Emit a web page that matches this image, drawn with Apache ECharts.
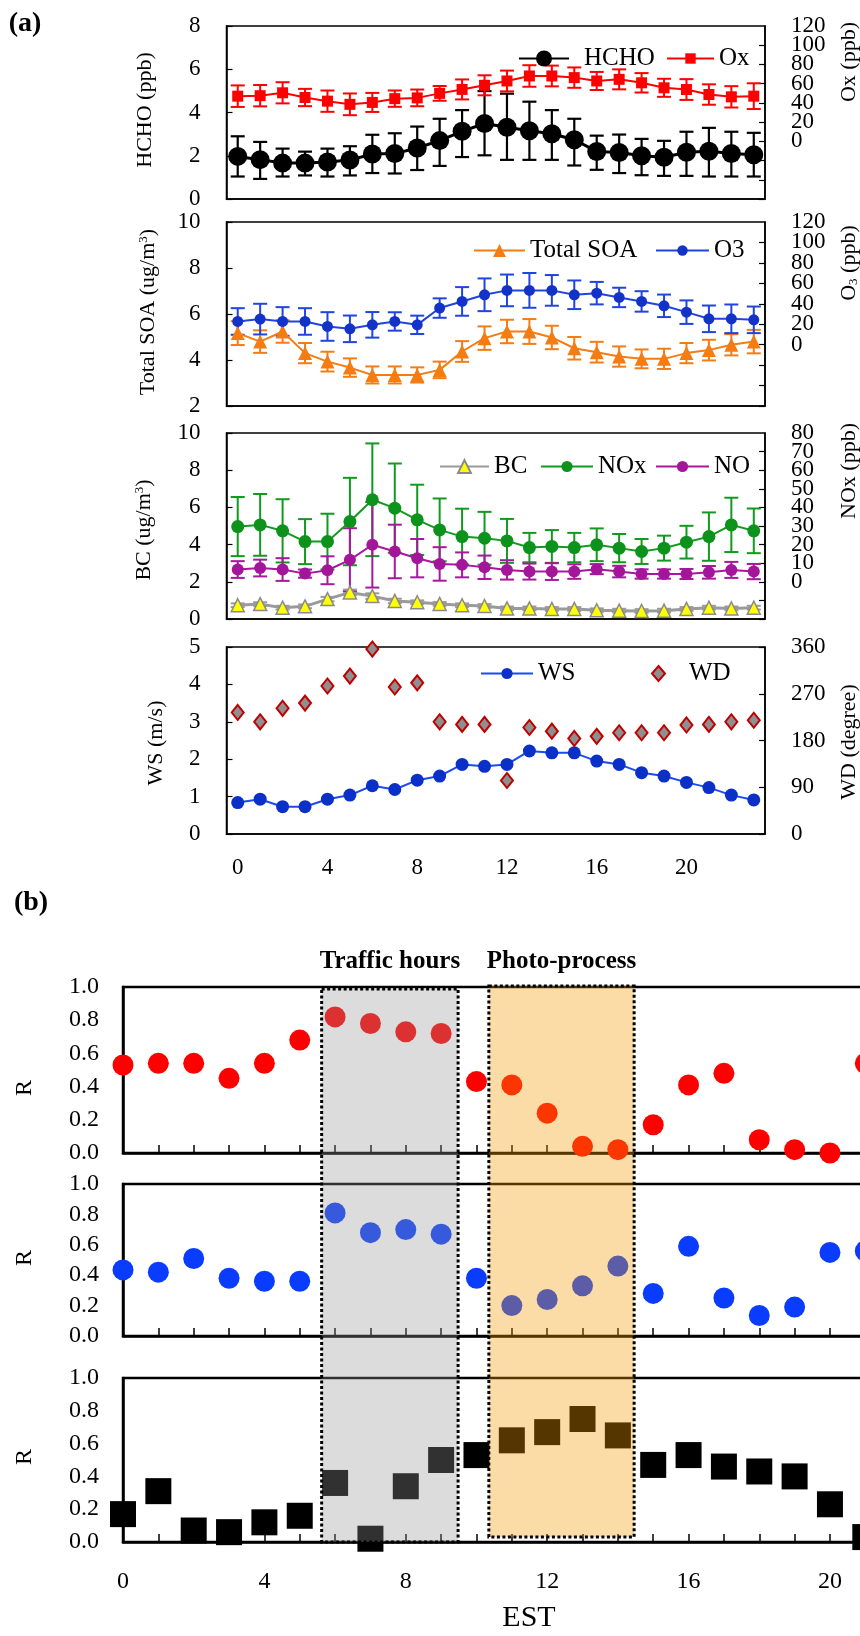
<!DOCTYPE html>
<html>
<head>
<meta charset="utf-8">
<script src="https://cdn.jsdelivr.net/npm/echarts@6/dist/echarts.min.js"></script>
<style>
  html, body { margin: 0; padding: 0; background: #fff; }
  #main { width: 860px; height: 1636px; }
</style>
</head>
<body>
<div id="main"></div>
<script>
// ---------- data: panel (a), hourly means 0-23 EST ----------
const hours = ["0","1","2","3","4","5","6","7","8","9","10","11","12","13","14","15","16","17","18","19","20","21","22","23"];

const hcho = [1.97,1.82,1.66,1.66,1.71,1.80,2.08,2.10,2.36,2.70,3.13,3.49,3.32,3.16,3.02,2.74,2.20,2.15,2.00,1.93,2.16,2.21,2.10,2.05];
const hchoLow = [1.04,0.93,1.04,1.09,1.04,1.09,1.20,1.18,1.34,1.53,1.94,2.02,1.81,1.81,1.81,1.55,1.35,1.20,1.10,1.07,1.07,1.04,1.04,1.04];
const hchoHigh = [2.90,2.64,2.33,2.19,2.33,2.44,2.97,3.04,3.35,3.71,4.11,4.99,4.87,4.50,4.11,3.71,2.93,2.98,2.78,2.69,3.11,3.29,3.11,3.06];
const ox = [47,47.5,50.5,45.6,41.8,38.5,40.5,44.4,45.2,49.9,54,58.3,62.8,68,68,66.3,62.8,64.5,60.9,55.7,53.9,48.7,46.3,47];
const oxErr = [11.2,11.1,11,9,11.1,11.3,9.9,8.5,8.7,7.7,10.4,10.4,10.8,11.2,10.8,10.6,9.4,10.4,10.1,9.4,10.8,10.6,11.1,13.4];

const soa = [5.17,4.80,5.24,4.30,3.93,3.67,3.35,3.35,3.35,3.57,4.37,4.95,5.24,5.24,4.98,4.51,4.34,4.15,4.05,4.05,4.30,4.43,4.66,4.80];
const soaErr = [0.52,0.49,0.49,0.44,0.43,0.40,0.37,0.37,0.33,0.36,0.45,0.51,0.51,0.54,0.51,0.49,0.45,0.44,0.41,0.44,0.44,0.45,0.46,0.51];
const o3 = [22.7,25,22.7,22.7,17.8,15.5,19.4,22.7,19.4,35.8,42.3,48.8,53.1,53.1,53.1,48.8,50.4,46.2,42.3,38,31.8,25.3,25.3,24.3];
const o3Err = [13,15,14,13,14,13,12.5,9,9,9.5,14,16,15.5,17,15,14,11,9.5,10,11,11.5,13,14,13];

const bc = [0.74,0.80,0.61,0.68,1.07,1.43,1.23,0.97,0.90,0.81,0.74,0.70,0.57,0.57,0.54,0.54,0.47,0.45,0.43,0.45,0.54,0.61,0.57,0.61];
const bcErr = [0.1,0.1,0.1,0.1,0.12,0.15,0.15,0.12,0.1,0.1,0.1,0.1,0.1,0.1,0.1,0.1,0.1,0.1,0.1,0.1,0.1,0.1,0.1,0.1];
const nox = [29.7,30.6,27.4,21.6,21.6,32.4,44.1,39.6,33.3,27.9,24.3,23.4,22,18.4,19,18.4,19.9,18.1,16.3,18.1,21.3,24.3,30.6,27.4];
const noxErr = [15.9,16.6,17,12.1,15,23.5,30.3,24,18.9,16.9,15,14.2,11.8,7.9,8.8,7.9,8.8,7.6,6.7,6.7,8.8,13,14.6,12];
const no = [6.6,7.4,6.6,4.4,6.2,11.8,19.9,16.3,12.7,9.6,9.1,7.8,6.4,5.5,5.5,5.5,6.8,5.5,4.2,4.2,4.2,5.1,6.4,5.5];
const noErr = [4.5,4.5,6.1,2.2,7.5,17,23,14.4,10.3,9,6.7,6.3,5.2,4.3,4.5,3.9,2.7,3.1,2.5,2.5,2.7,3.4,4.3,4.1];

const ws = [0.84,0.93,0.73,0.73,0.93,1.04,1.29,1.19,1.44,1.55,1.86,1.81,1.86,2.22,2.17,2.17,1.95,1.86,1.64,1.55,1.38,1.24,1.04,0.91];
const wd = [234,216,242,252,285,304,356,283,291,216,211,211,103,205,198,184,188,195,195,195,210,211,216,219];

// ---------- data: panel (b), correlation R by hour (0-21 visible) ----------
const rRed = [0.53,0.54,0.54,0.45,0.54,0.68,0.82,0.78,0.73,0.72,0.43,0.41,0.24,0.04,0.02,0.17,0.41,0.48,0.08,0.02,0.00,0.54];
const rBlue = [0.435,0.42,0.51,0.38,0.36,0.36,0.81,0.68,0.70,0.67,0.38,0.20,0.24,0.33,0.46,0.28,0.59,0.25,0.135,0.19,0.55,0.56];
const rBlack = [0.17,0.31,0.07,0.06,0.12,0.16,0.36,0.02,0.34,0.50,0.53,0.62,0.67,0.75,0.65,0.47,0.53,0.46,0.43,0.40,0.23,0.03];
const trafficHours = [5.62, 9.48];
const photoHours = [10.35, 14.46];

const FONT = "Liberation Serif";
const chart = echarts.init(document.getElementById("main"));

// error bar as custom series
function errorBars(xi, yi, low, high, color, lw) {
  return {
    type: "custom",
    xAxisIndex: xi,
    yAxisIndex: yi,
    z: 1,
    silent: true,
    data: low.map((v, i) => [i, v, high[i]]),
    encode: { x: 0, y: [1, 2] },
    renderItem: function (params, api) {
      const lo = api.coord([api.value(0), api.value(1)]);
      const hi = api.coord([api.value(0), api.value(2)]);
      const st = { stroke: color, lineWidth: lw };
      const cw = 7;
      return {
        type: "group",
        children: [
          { type: "line", shape: { x1: lo[0], y1: lo[1], x2: hi[0], y2: hi[1] }, style: st },
          { type: "line", shape: { x1: lo[0] - cw, y1: lo[1], x2: lo[0] + cw, y2: lo[1] }, style: st },
          { type: "line", shape: { x1: hi[0] - cw, y1: hi[1], x2: hi[0] + cw, y2: hi[1] }, style: st },
        ],
      };
    },
  };
}
const minus = (a, e) => a.map((v, i) => v - e[i]);
const plus = (a, e) => a.map((v, i) => v + e[i]);

function catX(grid, showLabel) {
  return {
    type: "category", gridIndex: grid, data: hours, boundaryGap: true,
    axisLine: { onZero: false, lineStyle: { color: "#000", width: 1.5 } },
    axisTick: { inside: true, length: 6, interval: 0, lineStyle: { color: "#000", width: 1.2 } },
    axisLabel: { show: showLabel, interval: 3, margin: 22, color: "#000", fontFamily: FONT, fontSize: 23 },
    splitLine: { show: false },
  };
}
function valY(grid, pos, min, max, interval, hideNeg, showMax) {
  return {
    type: "value", gridIndex: grid, position: pos, min: min, max: max, interval: interval,
    axisLine: { show: true, onZero: false, lineStyle: { color: "#000", width: 1.5 } },
    axisTick: { show: true, inside: true, length: 6, lineStyle: { color: "#000", width: 1.2 } },
    axisLabel: {
      margin: 26, color: "#000", fontFamily: FONT, fontSize: 23,
      showMaxLabel: showMax, showMinLabel: true,
      formatter: (v) => (hideNeg && v < 0 ? "" : v),
    },
    splitLine: { show: false },
  };
}
// label-only twin of a crowded right axis: carries just its top label
function topLabelY(grid, min, max, interval) {
  return {
    type: "value", gridIndex: grid, position: "right", min: min, max: max, interval: interval,
    axisLine: { show: false }, axisTick: { show: false }, splitLine: { show: false },
    axisLabel: {
      margin: 26, color: "#000", fontFamily: FONT, fontSize: 23, showMaxLabel: true, showMinLabel: false,
      formatter: (v) => (v === max ? v : ""),
    },
  };
}
function valXb(grid, showLabel) {
  return {
    type: "value", gridIndex: grid, min: 0, max: 23, interval: 1,
    axisLine: { onZero: false, lineStyle: { color: "#000", width: 2.5 } },
    axisTick: { inside: true, length: 8, lineStyle: { color: "#000", width: 1.5 } },
    axisLabel: {
      show: showLabel, margin: 28, color: "#000", fontFamily: FONT, fontSize: 24,
      showMinLabel: true, showMaxLabel: true,
      formatter: (v) => (v % 4 === 0 ? v : ""),
    },
    splitLine: { show: false },
  };
}
function valYb(grid) {
  return {
    type: "value", gridIndex: grid, min: 0, max: 1, interval: 0.2,
    axisLine: { show: true, onZero: false, lineStyle: { color: "#000", width: 2.5 } },
    axisTick: { show: false },
    axisLabel: {
      margin: 24, color: "#000", fontFamily: FONT, fontSize: 24,
      showMinLabel: true, showMaxLabel: true,
      formatter: (v) => v.toFixed(1),
    },
    splitLine: { show: false },
  };
}
function leg(name, left, cy, w, h, padLeft) {
  return {
    data: [name], left: left, top: cy - Math.max(h, 28) / 2, padding: 0,
    itemWidth: w, itemHeight: h, selectedMode: false,
    textStyle: { fontFamily: FONT, fontSize: 25, color: "#000", padding: [0, 0, 0, padLeft || 0] },
  };
}
const gridA = { left: 226.5, right: 95, show: true, borderColor: "#000", borderWidth: 1.5, outerBoundsMode: "none", containLabel: false };
const gridB = { left: 123, right: -76, show: true, borderColor: "#000", borderWidth: 2.5, outerBoundsMode: "none", containLabel: false };

const lineCommon = { showAllSymbol: true, showSymbol: true, z: 3 };

const option = {
  animation: false,
  backgroundColor: "#fff",
  grid: [
    Object.assign({ top: 26, height: 173 }, gridA),
    Object.assign({ top: 222, height: 184 }, gridA),
    Object.assign({ top: 433, height: 186 }, gridA),
    Object.assign({ top: 647, height: 187 }, gridA),
    Object.assign({ top: 987, height: 166 }, gridB),
    Object.assign({ top: 1184, height: 152 }, gridB),
    Object.assign({ top: 1378, height: 164 }, gridB),
  ],
  xAxis: [catX(0, false), catX(1, false), catX(2, false), catX(3, true), valXb(4, false), valXb(5, false), valXb(6, true)],
  yAxis: [
    valY(0, "left", 0, 8, 2, false, true), valY(0, "right", -60, 120, 20, true, false),
    valY(1, "left", 2, 10, 2, false, true), valY(1, "right", -60, 120, 20, true, false),
    valY(2, "left", 0, 10, 2, false, true), valY(2, "right", -20, 80, 10, true, false),
    valY(3, "left", 0, 5, 1, false, true), valY(3, "right", 0, 360, 90, false, true),
    valYb(4), valYb(5), valYb(6),
    topLabelY(0, -60, 120, 20), topLabelY(1, -60, 120, 20), topLabelY(2, -20, 80, 10),
  ],
  legend: [
    leg("HCHO", 518, 60, 50, 20, 10),
    leg("Ox", 666, 60, 47, 13),
    leg("Total SOA", 473, 252, 51, 16),
    leg("O3", 655, 252, 53, 13),
    leg("BC", 439, 468, 49, 16),
    leg("NOx", 540, 468, 52, 14),
    leg("NO", 655, 468, 53, 14),
    leg("WS", 480, 675, 52, 14),
    leg("WD", 651, 675, 13, 15, 19),
  ],
  series: [
    errorBars(0, 0, hchoLow, hchoHigh, "#000", 2.2),
    errorBars(0, 1, minus(ox, oxErr), plus(ox, oxErr), "#ff0000", 2),
    Object.assign({ type: "line", name: "HCHO", xAxisIndex: 0, yAxisIndex: 0, data: hcho,
      symbol: "circle", symbolSize: 19, itemStyle: { color: "#000" }, lineStyle: { color: "#000", width: 3 } }, lineCommon),
    Object.assign({ type: "line", name: "Ox", xAxisIndex: 0, yAxisIndex: 1, data: ox,
      symbol: "rect", symbolSize: 11, itemStyle: { color: "#ff0000" }, lineStyle: { color: "#ff0000", width: 2 } }, lineCommon),

    errorBars(1, 2, minus(soa, soaErr), plus(soa, soaErr), "#f57c12", 2),
    errorBars(1, 3, minus(o3, o3Err), plus(o3, o3Err), "#1f44e0", 2),
    Object.assign({ type: "line", name: "Total SOA", xAxisIndex: 1, yAxisIndex: 2, data: soa,
      symbol: "triangle", symbolSize: 14, itemStyle: { color: "#f57c12" }, lineStyle: { color: "#f57c12", width: 2 } }, lineCommon),
    Object.assign({ type: "line", name: "O3", xAxisIndex: 1, yAxisIndex: 3, data: o3,
      symbol: "circle", symbolSize: 11, itemStyle: { color: "#1232c8" }, lineStyle: { color: "#1f44e0", width: 2 } }, lineCommon),

    errorBars(2, 4, minus(bc, bcErr), plus(bc, bcErr), "#9a9a9a", 2),
    errorBars(2, 5, minus(nox, noxErr), plus(nox, noxErr), "#119a1e", 2),
    errorBars(2, 5, minus(no, noErr), plus(no, noErr), "#a8179e", 2),
    Object.assign({ type: "line", name: "BC", xAxisIndex: 2, yAxisIndex: 4, data: bc,
      symbol: "triangle", symbolSize: 13, itemStyle: { color: "#ffff00", borderColor: "#8a8a8a", borderWidth: 1.5 },
      lineStyle: { color: "#9a9a9a", width: 3 } }, lineCommon),
    Object.assign({ type: "line", name: "NOx", xAxisIndex: 2, yAxisIndex: 5, data: nox,
      symbol: "circle", symbolSize: 13, itemStyle: { color: "#0d921c" }, lineStyle: { color: "#119a1e", width: 2 } }, lineCommon),
    Object.assign({ type: "line", name: "NO", xAxisIndex: 2, yAxisIndex: 5, data: no,
      symbol: "circle", symbolSize: 12, itemStyle: { color: "#a3169a" }, lineStyle: { color: "#a8179e", width: 2 } }, lineCommon),

    Object.assign({ type: "line", name: "WS", xAxisIndex: 3, yAxisIndex: 6, data: ws,
      symbol: "circle", symbolSize: 13, itemStyle: { color: "#0b30c8" }, lineStyle: { color: "#1a4af0", width: 2 } }, lineCommon),
    { type: "scatter", name: "WD", xAxisIndex: 3, yAxisIndex: 7, data: wd, z: 3,
      symbol: "diamond", symbolSize: [12, 15],
      itemStyle: { color: "#8f8f8f", borderColor: "#c00000", borderWidth: 2, opacity: 1 } },

    { type: "scatter", name: "R1", xAxisIndex: 4, yAxisIndex: 8, data: rRed.map((v, i) => [i, v]),
      symbol: "circle", symbolSize: 21, itemStyle: { color: "#ff0000", opacity: 1 }, z: 3, clip: false },
    { type: "scatter", name: "R2", xAxisIndex: 5, yAxisIndex: 9, data: rBlue.map((v, i) => [i, v]),
      symbol: "circle", symbolSize: 21, itemStyle: { color: "#0a3cff", opacity: 1 }, z: 3, clip: false },
    { type: "scatter", name: "R3", xAxisIndex: 6, yAxisIndex: 10, data: rBlack.map((v, i) => [i, v]),
      symbol: "rect", symbolSize: 26, itemStyle: { color: "#000", opacity: 1 }, z: 3, clip: false },
  ],
};
chart.setOption(option);

// ---------- annotations: axis titles, shaded periods ----------
function title(text, x, y, rot, size, bold, rich) {
  return {
    type: "text", x: x, y: y, rotation: rot, z: 20, silent: true,
    style: {
      text: text, fill: "#000", fontFamily: FONT, fontSize: size, fontWeight: bold ? "bold" : "normal",
      align: "center", verticalAlign: "middle", textAlign: "center", textVerticalAlign: "middle",
      rich: rich,
    },
  };
}
const R90 = Math.PI / 2;
const supRich = { sup: { fontSize: 13, fontFamily: FONT, verticalAlign: "top", lineHeight: 22 } };
const subRich = { sub: { fontSize: 13, fontFamily: FONT, verticalAlign: "bottom", lineHeight: 22 } };

const xb = (v) => chart.convertToPixel({ xAxisIndex: 4 }, v);
const yTop = chart.convertToPixel({ yAxisIndex: 8 }, 1);
const yBot = chart.convertToPixel({ yAxisIndex: 10 }, 0);

function band(range, fill, top, bottom) {
  const x0 = xb(range[0]), x1 = xb(range[1]);
  return {
    type: "rect", z: 10, silent: true,
    shape: { x: x0, y: top, width: x1 - x0, height: bottom - top },
    style: { fill: fill, stroke: "#000", lineWidth: 3, lineDash: [3, 2.5] },
  };
}

chart.setOption({
  graphic: [
    band(trafficHours, "rgba(150,150,150,0.33)", yTop + 2, yBot),
    band(photoHours, "rgba(246,155,0,0.35)", yTop - 1, yBot - 5),
    title("Traffic hours", (xb(trafficHours[0]) + xb(trafficHours[1])) / 2, 962, 0, 25, true),
    title("Photo-process", (xb(photoHours[0]) + xb(photoHours[1])) / 2, 962, 0, 25, true),

    title("(a)", 25, 24, 0, 28, true),
    title("(b)", 31, 903, 0, 28, true),
    title("HCHO (ppb)", 145, 110, R90, 22),
    title("Total SOA (ug/m{sup|3})", 148, 312, R90, 22, false, supRich),
    title("BC (ug/m{sup|3})", 144, 530, R90, 22, false, supRich),
    title("WS (m/s)", 156, 743, R90, 22),
    title("Ox (ppb)", 849, 62, R90, 22),
    title("O{sub|3} (ppb)", 849, 263, R90, 22, false, subRich),
    title("NOx (ppb)", 849, 471, R90, 22),
    title("WD (degree)", 849, 742, R90, 22),
    title("R", 25, 1088, R90, 24),
    title("R", 25, 1258, R90, 24),
    title("R", 25, 1457, R90, 24),
    title("EST", 529, 1618, 0, 30),
  ],
});
</script>
</body>
</html>
